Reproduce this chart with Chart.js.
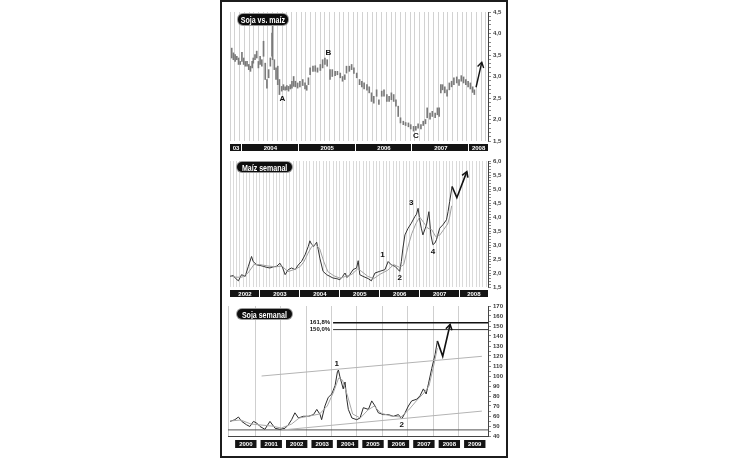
<!DOCTYPE html>
<html lang="es">
<head>
<meta charset="utf-8">
<title>Soja y maíz</title>
<script src="https://cdn.jsdelivr.net/npm/chart.js@4.4.1/dist/chart.umd.min.js"></script>
<style>
  html, body { margin: 0; padding: 0; background: #fff; }
  body { position: relative; width: 730px; height: 460px; overflow: hidden; }
  #marco { position: absolute; left: 220px; top: 0; width: 284px; height: 454px; border: 2px solid #1c1c1c; }
  canvas { position: absolute; left: 222px; }
  .titulo { position: absolute; height: 11px; background: #0d0d0d; color: #fff;
    border-radius: 5px; box-shadow: 0 0 0 1px #9a9a9a; white-space: nowrap; overflow: hidden;
    display: flex; justify-content: center; align-items: center;
    font: bold 9.5px "Liberation Sans", Arial, sans-serif; }
  .titulo span { display: inline-block; flex: none; transform: scaleX(0.74); transform-origin: center; }
</style>
</head>
<body>
<div id="marco"></div>
<canvas id="graficoRatio" width="284" height="152" style="top:3px"></canvas>
<canvas id="graficoMaiz" width="284" height="145" style="top:155px"></canvas>
<canvas id="graficoSoja" width="284" height="155" style="top:300px"></canvas>
<div class="titulo" style="left:238px; top:14px; width:50px;"><span>Soja vs. maíz</span></div>
<div class="titulo" style="left:237px; top:162px; width:55px; height:10px;"><span>Maíz semanal</span></div>
<div class="titulo" style="left:237px; top:309px; width:55px; height:10px;"><span>Soja semanal</span></div>
<script>
// ---- Soja vs. maíz (relación semanal, barras máx/mín) ----
const p1Fechas = [2003.82, 2003.85, 2003.88, 2003.91, 2003.94, 2003.97, 2004.00, 2004.03, 2004.06, 2004.09,
  2004.12, 2004.15, 2004.18, 2004.20, 2004.23, 2004.26, 2004.29, 2004.32, 2004.35, 2004.38,
  2004.41, 2004.44, 2004.47, 2004.50, 2004.53, 2004.54, 2004.57, 2004.60, 2004.63, 2004.66,
  2004.70, 2004.73, 2004.76, 2004.79, 2004.82, 2004.85, 2004.88, 2004.91, 2004.94, 2004.98,
  2005.02, 2005.07, 2005.11, 2005.14, 2005.17, 2005.20, 2005.25, 2005.29, 2005.33, 2005.38,
  2005.42, 2005.46, 2005.50, 2005.55, 2005.59, 2005.64, 2005.68, 2005.73, 2005.77, 2005.81,
  2005.84, 2005.89, 2005.93, 2005.97, 2006.02, 2006.07, 2006.11, 2006.15, 2006.20, 2006.24,
  2006.28, 2006.32, 2006.37, 2006.41, 2006.46, 2006.50, 2006.55, 2006.59, 2006.63, 2006.67,
  2006.71, 2006.75, 2006.79, 2006.84, 2006.88, 2006.93, 2006.97, 2007.02, 2007.06, 2007.10,
  2007.15, 2007.19, 2007.23, 2007.26, 2007.31, 2007.35, 2007.40, 2007.44, 2007.47, 2007.50,
  2007.53, 2007.57, 2007.61, 2007.65, 2007.69, 2007.73, 2007.78, 2007.82, 2007.86, 2007.90,
  2007.94, 2007.98, 2008.02, 2008.06, 2008.09];
const p1Maximos = [3.66, 3.55, 3.51, 3.47, 3.43, 3.35, 3.56, 3.43, 3.35, 3.35,
  3.28, 3.24, 3.35, 3.43, 3.51, 3.59, 3.35, 3.47, 3.39, 3.82,
  3.31, 2.93, 3.16, 3.43, 4.01, 4.36, 3.39, 3.20, 3.24, 2.93,
  2.77, 2.81, 2.76, 2.79, 2.77, 2.81, 2.89, 3.00, 2.89, 2.85,
  2.89, 2.93, 2.85, 2.79, 2.97, 3.20, 3.24, 3.25, 3.20, 3.28,
  3.39, 3.43, 3.39, 3.16, 3.16, 3.12, 3.12, 3.08, 3.00, 3.04,
  3.24, 3.24, 3.28, 3.20, 3.08, 2.93, 2.89, 2.85, 2.81, 2.76,
  2.62, 2.54, 2.69, 2.46, 2.66, 2.69, 2.58, 2.54, 2.62, 2.58,
  2.46, 2.31, 2.04, 1.96, 1.93, 1.92, 1.88, 1.84, 1.84, 1.90,
  1.88, 1.96, 2.00, 2.27, 2.15, 2.19, 2.15, 2.27, 2.27, 2.81,
  2.81, 2.76, 2.69, 2.85, 2.89, 2.97, 2.99, 2.93, 3.02, 2.99,
  2.93, 2.89, 2.85, 2.76, 2.69];
const p1Minimos = [3.43, 3.39, 3.35, 3.39, 3.28, 3.28, 3.35, 3.28, 3.24, 3.24,
  3.16, 3.12, 3.20, 3.31, 3.39, 3.43, 3.20, 3.28, 3.24, 3.47,
  2.93, 2.73, 2.97, 3.24, 3.47, 3.39, 3.16, 2.93, 2.81, 2.58,
  2.66, 2.69, 2.68, 2.69, 2.66, 2.71, 2.73, 2.77, 2.76, 2.73,
  2.76, 2.79, 2.71, 2.68, 2.81, 3.04, 3.12, 3.12, 3.10, 3.14,
  3.20, 3.28, 3.24, 2.93, 3.00, 3.02, 3.04, 2.97, 2.89, 2.93,
  3.08, 3.12, 3.16, 3.07, 2.97, 2.81, 2.76, 2.71, 2.68, 2.62,
  2.42, 2.38, 2.54, 2.35, 2.54, 2.54, 2.42, 2.42, 2.46, 2.42,
  2.31, 2.07, 1.92, 1.88, 1.86, 1.83, 1.78, 1.73, 1.75, 1.80,
  1.78, 1.86, 1.90, 2.04, 2.01, 2.07, 2.04, 2.11, 2.07, 2.62,
  2.69, 2.62, 2.54, 2.69, 2.76, 2.81, 2.85, 2.79, 2.89, 2.85,
  2.81, 2.76, 2.71, 2.63, 2.58];
const p1FlechaFechas = [2008.12, 2008.22];
const p1FlechaValores = [2.75, 3.33];
const p1Anios = [2003, 2004, 2005, 2006, 2007, 2008];
const p1EtiquetasAnios = ['03', '2004', '2005', '2006', '2007', '2008'];
const p1Marcas = ['A', 'B', 'C'];
const p1MarcasFechas = [2004.71, 2005.52, 2007.06];
const p1MarcasValores = [2.48, 3.56, 1.62];

// ---- Maíz semanal ----
const p2Fechas = [2002.25, 2002.33, 2002.38, 2002.46, 2002.54, 2002.63, 2002.71, 2002.79, 2002.83, 2002.92,
  2003.00, 2003.08, 2003.17, 2003.25, 2003.33, 2003.42, 2003.50, 2003.57, 2003.63, 2003.71,
  2003.79, 2003.88, 2003.96, 2004.04, 2004.13, 2004.21, 2004.25, 2004.29, 2004.35, 2004.42,
  2004.46, 2004.50, 2004.58, 2004.67, 2004.75, 2004.83, 2004.92, 2005.00, 2005.07, 2005.13,
  2005.18, 2005.25, 2005.33, 2005.42, 2005.46, 2005.50, 2005.58, 2005.71, 2005.79, 2005.88,
  2006.00, 2006.13, 2006.21, 2006.29, 2006.38, 2006.46, 2006.50, 2006.54, 2006.58, 2006.63,
  2006.71, 2006.79, 2006.88, 2006.92, 2006.96, 2007.00, 2007.04, 2007.08, 2007.17, 2007.23,
  2007.28, 2007.33, 2007.38, 2007.42, 2007.50, 2007.58, 2007.67, 2007.71, 2007.75, 2007.81];
const p2Precios = [1.88, 1.91, 1.82, 1.72, 1.94, 1.88, 2.24, 2.59, 2.41, 2.29,
  2.27, 2.24, 2.20, 2.18, 2.22, 2.24, 2.35, 2.18, 1.94, 2.12,
  2.18, 2.12, 2.29, 2.41, 2.65, 2.95, 3.15, 3.03, 2.95, 3.10,
  2.83, 2.53, 2.06, 1.94, 1.88, 1.82, 1.80, 1.76, 1.88, 2.00,
  1.84, 1.94, 2.12, 2.18, 2.44, 1.94, 1.88, 1.80, 1.72, 2.00,
  2.06, 2.12, 2.41, 2.29, 2.24, 2.12, 2.06, 2.41, 2.89, 3.36,
  3.60, 3.78, 4.02, 4.10, 4.31, 3.90, 3.60, 3.36, 3.72, 4.19,
  3.36, 3.01, 3.07, 3.19, 3.60, 3.72, 3.90, 4.19, 4.55, 5.09];
const p2MediaFechas = [2002.25, 2002.40, 2002.55, 2002.70, 2002.85, 2003.00, 2003.20, 2003.40, 2003.55, 2003.70,
  2003.85, 2004.00, 2004.10, 2004.20, 2004.30, 2004.40, 2004.50, 2004.60, 2004.70, 2004.85,
  2005.00, 2005.15, 2005.30, 2005.45, 2005.55, 2005.70, 2005.85, 2006.00, 2006.20, 2006.35,
  2006.50, 2006.60, 2006.70, 2006.80, 2006.90, 2007.00, 2007.10, 2007.20, 2007.30, 2007.40,
  2007.50, 2007.60, 2007.70, 2007.75, 2007.80];
const p2Media = [1.90, 1.85, 1.85, 2.00, 2.30, 2.30, 2.25, 2.22, 2.25, 2.05,
  2.12, 2.22, 2.40, 2.70, 2.95, 3.02, 2.85, 2.40, 2.05, 1.90,
  1.82, 1.88, 1.95, 2.15, 2.05, 1.88, 1.80, 1.95, 2.10, 2.30,
  2.20, 2.30, 2.90, 3.40, 3.75, 4.00, 3.80, 3.60, 3.55, 3.30,
  3.35, 3.55, 3.75, 4.00, 4.40];
const p2FlechaFechas = [2007.81, 2007.93, 2008.18];
const p2FlechaValores = [5.09, 4.69, 5.62];
const p2Anios = [2002, 2003, 2004, 2005, 2006, 2007, 2008];
const p2EtiquetasAnios = ['2002', '2003', '2004', '2005', '2006', '2007', '2008'];
const p2Marcas = ['1', '2', '3', '4'];
const p2MarcasFechas = [2006.07, 2006.50, 2006.79, 2007.33];
const p2MarcasValores = [2.65, 1.84, 4.49, 2.75];

// ---- Soja semanal ----
const p3Fechas = [1999.88, 2000.07, 2000.21, 2000.34, 2000.53, 2000.66, 2000.80, 2000.93, 2001.06, 2001.25,
  2001.45, 2001.65, 2001.84, 2002.04, 2002.17, 2002.30, 2002.43, 2002.57, 2002.76, 2002.96,
  2003.16, 2003.29, 2003.42, 2003.48, 2003.61, 2003.74, 2003.88, 2004.01, 2004.10, 2004.14,
  2004.20, 2004.33, 2004.40, 2004.47, 2004.53, 2004.67, 2004.86, 2004.99, 2005.12, 2005.32,
  2005.45, 2005.58, 2005.71, 2005.91, 2006.10, 2006.30, 2006.50, 2006.63, 2006.76, 2006.89,
  2007.02, 2007.22, 2007.35, 2007.48, 2007.59, 2007.68, 2007.81, 2007.94, 2008.03];
const p3Precios = [54.6, 56.3, 59.0, 54.6, 51.2, 49.5, 54.6, 52.9, 49.5, 46.7,
  54.6, 47.7, 46.7, 47.7, 51.2, 56.3, 63.2, 58.0, 59.7, 59.7,
  61.4, 66.6, 61.4, 56.3, 70.0, 78.6, 82.0, 90.5, 104.2, 106.0,
  99.1, 87.1, 94.0, 76.8, 66.6, 58.0, 56.3, 58.0, 68.3, 66.6,
  75.1, 70.0, 63.2, 61.4, 61.4, 59.7, 61.4, 57.0, 63.2, 70.0,
  75.1, 76.8, 80.3, 87.1, 82.0, 92.3, 107.7, 121.4, 135.1];
const p3MediaFechas = [1999.88, 2000.30, 2000.70, 2001.10, 2001.50, 2001.90, 2002.30, 2002.60, 2003.00, 2003.40,
  2003.70, 2003.95, 2004.15, 2004.30, 2004.50, 2004.70, 2005.00, 2005.30, 2005.55, 2005.80,
  2006.20, 2006.60, 2006.90, 2007.20, 2007.50, 2007.70, 2007.90, 2008.03];
const p3Media = [55, 56, 52, 51, 50, 48, 52, 58, 60, 62,
  70, 84, 98, 96, 80, 62, 58, 66, 70, 63,
  60, 59, 66, 75, 83, 90, 112, 128];
const p3FlechaFechas = [2008.03, 2008.24, 2008.53];
const p3FlechaValores = [135.1, 119.7, 151.5];
const p3FibEtiquetas = ['161,8%', '150,0%'];
const p3FibValores = [153.2, 146.4];
const p3FibDesde = 2003.93;
const p3Soporte = 46.1;
const p3TechoFechas = [2001.12, 2009.78];
const p3TechoValores = [100.0, 119.7];
const p3PisoFechas = [2001.91, 2009.78];
const p3PisoValores = [46.0, 64.9];
const p3Anios = [2000, 2001, 2002, 2003, 2004, 2005, 2006, 2007, 2008, 2009];
const p3EtiquetasAnios = ['2000', '2001', '2002', '2003', '2004', '2005', '2006', '2007', '2008', '2009'];
const p3Marcas = ['1', '2'];
const p3MarcasFechas = [2004.07, 2006.63];
const p3MarcasValores = [111.8, 51.2];

const fuente = '"Liberation Sans", Arial, sans-serif';

function puntos(xs, ys) {
  return xs.map((x, i) => ({ x: x, y: ys[i] }));
}

function meses(min, max) {
  const r = [];
  for (let k = Math.ceil(min * 12); k <= Math.floor(max * 12); k++) r.push(k / 12);
  return r;
}

// barra negra de años bajo el gráfico (o cajas separadas)
const barraAnios = {
  id: 'barraAnios',
  afterDraw(chart, args, o) {
    const { ctx, chartArea: a, scales: { x } } = chart;
    const top = a.bottom + o.separacion;
    ctx.save();
    ctx.font = 'bold 6px ' + fuente;
    ctx.textAlign = 'center';
    ctx.textBaseline = 'middle';
    if (!o.cajas) {
      ctx.fillStyle = '#141414';
      ctx.fillRect(a.left, top, a.right - a.left, o.alto);
    }
    o.anios.forEach((an, i) => {
      let x0, x1;
      if (o.cajas) {
        x0 = x.getPixelForValue(an + o.desde);
        x1 = x.getPixelForValue(an + o.hasta);
        ctx.fillStyle = '#141414';
        ctx.fillRect(x0, top, x1 - x0, o.alto);
      } else {
        const xi = x.getPixelForValue(an);
        x0 = Math.max(a.left, xi);
        x1 = Math.min(a.right, x.getPixelForValue(an + 1));
        if (xi > a.left + 1) {
          ctx.fillStyle = '#fff';
          ctx.fillRect(Math.round(xi) - 1, top, 1, o.alto);
        }
      }
      ctx.fillStyle = '#fff';
      ctx.fillText(o.etiquetas[i], (x0 + x1) / 2, top + o.alto / 2 + 0.5);
    });
    ctx.restore();
  }
};

// letras y textos sobre el gráfico
const marcas = {
  id: 'marcas',
  afterDatasetsDraw(chart, args, o) {
    const { ctx, scales: { x, y } } = chart;
    ctx.save();
    ctx.textBaseline = 'middle';
    o.grupos.forEach(g => {
      ctx.font = g.font;
      ctx.fillStyle = '#111';
      ctx.textAlign = g.align || 'center';
      g.textos.forEach((t, i) => {
        ctx.fillText(t, x.getPixelForValue(g.xs[i]) + (g.dx || 0), y.getPixelForValue(g.ys[i]));
      });
    });
    ctx.restore();
  }
};

// punta de flecha abierta al final de las series marcadas
const flechas = {
  id: 'flechas',
  afterDatasetsDraw(chart) {
    const ctx = chart.ctx;
    chart.data.datasets.forEach((ds, i) => {
      if (!ds.flecha) return;
      const pts = chart.getDatasetMeta(i).data;
      const a = pts[pts.length - 2], b = pts[pts.length - 1];
      const ang = Math.atan2(b.y - a.y, b.x - a.x);
      const L = 6;
      ctx.save();
      ctx.strokeStyle = ds.borderColor;
      ctx.lineWidth = ds.borderWidth;
      ctx.beginPath();
      ctx.moveTo(b.x - L * Math.cos(ang - 0.55), b.y - L * Math.sin(ang - 0.55));
      ctx.lineTo(b.x, b.y);
      ctx.lineTo(b.x - L * Math.cos(ang + 0.55), b.y - L * Math.sin(ang + 0.55));
      ctx.stroke();
      ctx.restore();
    });
  }
};

function ejeX(min, max, guias, alto, color, borde) {
  return {
    type: 'linear', min: min, max: max, offset: false,
    afterBuildTicks: s => { s.ticks = guias.map(v => ({ value: v })); },
    afterFit: s => { s.height = alto; },
    ticks: { display: false },
    grid: { color: color, lineWidth: 1, drawTicks: false },
    border: { display: !!borde, color: '#444', width: 1 }
  };
}

function ejeY(min, max, paso, pasoEtiqueta, decimales) {
  const valores = [];
  for (let v = min; v <= max + 1e-9; v += paso) valores.push(+v.toFixed(3));
  return {
    position: 'right', min: min, max: max,
    afterBuildTicks: s => { s.ticks = valores.map(v => ({ value: v })); },
    afterFit: s => { s.width = 18; },
    ticks: {
      autoSkip: false, padding: 2, color: '#3a3a3a',
      font: { family: fuente, size: 6, weight: 'bold' },
      callback: v => Math.abs(v / pasoEtiqueta - Math.round(v / pasoEtiqueta)) < 1e-6 ? v.toFixed(decimales).replace('.', ',') : ''
    },
    grid: { drawOnChartArea: false, tickLength: 3, color: '#555', lineWidth: 0.7 },
    border: { color: '#444', width: 1 }
  };
}

function linea(datos, color, ancho, extra) {
  return Object.assign({ type: 'line', data: datos, borderColor: color, borderWidth: ancho, pointRadius: 0, tension: 0 }, extra || {});
}

const base = { responsive: false, animation: false, devicePixelRatio: 1 };
const sinLeyenda = { legend: { display: false }, tooltip: { enabled: false } };

// Panel 1
new Chart(document.getElementById('graficoRatio'), {
  type: 'bar',
  data: {
    datasets: [
      { type: 'bar', data: p1Fechas.map((f, i) => ({ x: f, y: [p1Minimos[i], p1Maximos[i]] })),
        backgroundColor: '#7a7a7a', barThickness: 1, grouped: false },
      linea(puntos(p1FlechaFechas, p1FlechaValores), '#111', 1.4, { flecha: true })
    ]
  },
  options: Object.assign({}, base, {
    layout: { padding: { left: 8, top: 9, right: 0, bottom: 0 } },
    plugins: Object.assign({}, sinLeyenda, {
      barraAnios: { anios: p1Anios, etiquetas: p1EtiquetasAnios, separacion: 3, alto: 7 },
      marcas: { grupos: [{ textos: p1Marcas, xs: p1MarcasFechas, ys: p1MarcasValores, font: 'bold 8px ' + fuente }] }
    }),
    scales: {
      x: ejeX(2003.79, 2008.33, meses(2003.79, 2008.33), 14, '#d2d2d2'),
      y: ejeY(1.5, 4.5, 0.1, 0.5, 1)
    }
  }),
  plugins: [barraAnios, marcas, flechas]
});

// Panel 2
new Chart(document.getElementById('graficoMaiz'), {
  type: 'line',
  data: {
    datasets: [
      linea(puntos(p2MediaFechas, p2Media), '#a0a0a0', 1),
      linea(puntos(p2Fechas, p2Precios), '#333', 1),
      linea(puntos(p2FlechaFechas, p2FlechaValores), '#111', 1.6, { flecha: true })
    ]
  },
  options: Object.assign({}, base, {
    layout: { padding: { left: 8, top: 6, right: 0, bottom: 0 } },
    plugins: Object.assign({}, sinLeyenda, {
      barraAnios: { anios: p2Anios, etiquetas: p2EtiquetasAnios, separacion: 3, alto: 7 },
      marcas: { grupos: [{ textos: p2Marcas, xs: p2MarcasFechas, ys: p2MarcasValores, font: 'bold 8px ' + fuente }] }
    }),
    scales: {
      x: ejeX(2002.25, 2008.71, meses(2002.25, 2008.71), 13, '#dadada'),
      y: ejeY(1.5, 6.0, 0.1, 0.5, 1)
    }
  }),
  plugins: [barraAnios, marcas, flechas]
});

// Panel 3
const guiasSoja = [1999.8];
for (let a = 2000; a <= 2008; a++) guiasSoja.push(a + 0.87);
const finSoja = 2010.02;
new Chart(document.getElementById('graficoSoja'), {
  type: 'line',
  data: {
    datasets: [
      linea(puntos(p3TechoFechas, p3TechoValores), '#b4b4b4', 1),
      linea(puntos(p3PisoFechas, p3PisoValores), '#b4b4b4', 1),
      linea(puntos([1999.8, finSoja], [p3Soporte, p3Soporte]), '#555', 1),
      linea(puntos([p3FibDesde, finSoja], [p3FibValores[0], p3FibValores[0]]), '#111', 1.6),
      linea(puntos([p3FibDesde, finSoja], [p3FibValores[1], p3FibValores[1]]), '#333', 1),
      linea(puntos(p3MediaFechas, p3Media), '#a8a8a8', 1),
      linea(puntos(p3Fechas, p3Precios), '#2b2b2b', 1),
      linea(puntos(p3FlechaFechas, p3FlechaValores), '#111', 1.6, { flecha: true })
    ]
  },
  options: Object.assign({}, base, {
    layout: { padding: { left: 6, top: 6, right: 0, bottom: 0 } },
    plugins: Object.assign({}, sinLeyenda, {
      barraAnios: { anios: p3Anios, etiquetas: p3EtiquetasAnios, separacion: 4, alto: 8, cajas: true, desde: 0.08, hasta: 0.92 },
      marcas: { grupos: [
        { textos: p3Marcas, xs: p3MarcasFechas, ys: p3MarcasValores, font: 'bold 8px ' + fuente },
        { textos: p3FibEtiquetas, xs: [p3FibDesde, p3FibDesde], ys: p3FibValores, font: 'bold 6px ' + fuente, align: 'right', dx: -3 }
      ] }
    }),
    scales: {
      x: ejeX(1999.8, finSoja, guiasSoja, 19, '#cfcfcf', true),
      y: ejeY(40, 170, 5, 10, 0)
    }
  }),
  plugins: [barraAnios, marcas, flechas]
});
</script>
</body>
</html>
